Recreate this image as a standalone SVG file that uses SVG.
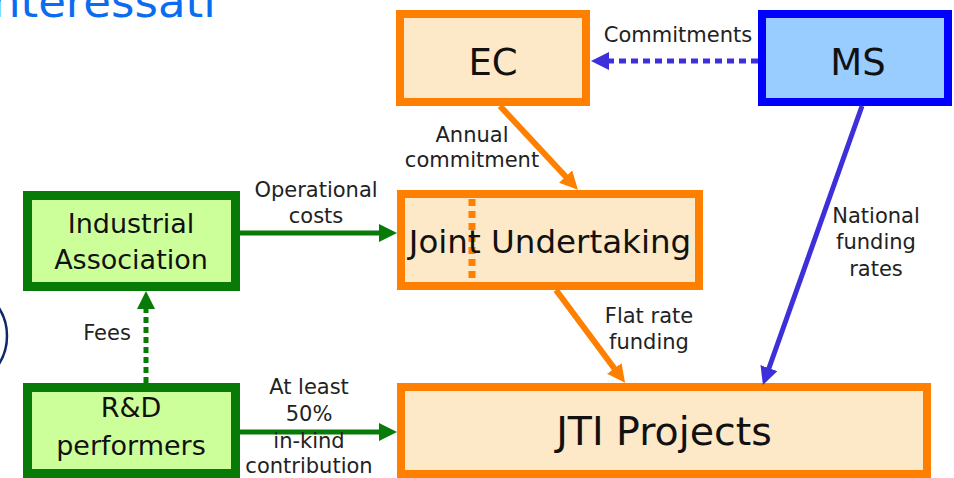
<svg xmlns="http://www.w3.org/2000/svg" width="954" height="478" viewBox="0 0 954 478">
<defs>
<style>
.ob{fill:#fde8c8;stroke:#ff8000;stroke-width:8}
.gb{fill:#ccff99;stroke:#077a07;stroke-width:9}
.bb{fill:#99ccff;stroke:#0000ff;stroke-width:8}
.nt{font-family:"DejaVu Sans",Verdana,sans-serif;fill:#111;text-anchor:middle}
.lb{font-family:"DejaVu Sans",Verdana,sans-serif;font-size:21px;fill:#222;text-anchor:middle}
.og{stroke:#ff8000;stroke-width:6;fill:none}
.gr{stroke:#077a07;stroke-width:5;fill:none}
.bl{stroke:#3d2fd9;stroke-width:5;fill:none}
</style>
<marker id="ha-o" viewBox="0 0 18 18" refX="2" refY="9" markerWidth="18" markerHeight="18" markerUnits="userSpaceOnUse" orient="auto"><path d="M0,0 L18,9 L0,18 z" fill="#ff8000"/></marker>
<marker id="ha-g" viewBox="0 0 18 18" refX="2" refY="9" markerWidth="18" markerHeight="18" markerUnits="userSpaceOnUse" orient="auto"><path d="M0,0 L18,9 L0,18 z" fill="#077a07"/></marker>
<marker id="ha-b" viewBox="0 0 18 18" refX="2" refY="9" markerWidth="18" markerHeight="18" markerUnits="userSpaceOnUse" orient="auto"><path d="M0,0 L18,9 L0,18 z" fill="#3d2fd9"/></marker>
</defs>
<rect width="954" height="478" fill="#ffffff"/>
<text x="-8" y="17" font-family="'DejaVu Sans',Verdana,sans-serif" font-size="45" fill="#0a6cf0">nteressati</text>
<circle cx="-45" cy="336" r="52" fill="none" stroke="#0c2a6a" stroke-width="2.5"/>
<g id="ec"><rect class="ob" x="400" y="14" width="186" height="88"/><text class="nt" x="493" y="75" font-size="37">EC</text></g>
<g id="ms"><rect class="bb" x="762" y="14" width="186" height="88"/><text class="nt" x="858" y="75" font-size="37">MS</text></g>
<g id="ju"><rect class="ob" x="401" y="194" width="298" height="92"/><line x1="472" y1="199" x2="472" y2="281" stroke="#ff8000" stroke-width="7" stroke-dasharray="7 5"/><text class="nt" x="550" y="253" font-size="32.5">Joint Undertaking</text></g>
<g id="jti"><rect class="ob" x="401" y="387" width="526" height="87"/><text class="nt" x="664" y="445" font-size="39.5">JTI Projects</text></g>
<g id="ia"><rect class="gb" x="27.5" y="195.5" width="208" height="91"/><text class="nt" x="131" y="233" font-size="27">Industrial</text><text class="nt" x="131" y="269" font-size="27">Association</text></g>
<g id="rd"><rect class="gb" x="27.5" y="387.5" width="208" height="86"/><text class="nt" x="131" y="417" font-size="27">R&amp;D</text><text class="nt" x="131" y="455" font-size="27">performers</text></g>
<g id="connectors">
<line class="bl" x1="758" y1="61" x2="607" y2="61" stroke-width="6" stroke-dasharray="7 5" marker-end="url(#ha-b)"/>
<line class="og" x1="500" y1="106" x2="567" y2="178" marker-end="url(#ha-o)"/>
<line class="og" x1="556" y1="290" x2="615.5" y2="370" marker-end="url(#ha-o)"/>
<line class="bl" x1="862" y1="106" x2="768.3" y2="370" marker-end="url(#ha-b)"/>
<line class="gr" x1="240" y1="233" x2="381" y2="233" marker-end="url(#ha-g)"/>
<line class="gr" x1="240" y1="432" x2="381" y2="432" marker-end="url(#ha-g)"/>
<line class="gr" x1="146" y1="383" x2="146" y2="307" stroke-width="6" stroke-dasharray="6 4" marker-end="url(#ha-g)"/>
<text class="lb" x="678" y="42">Commitments</text>
<text class="lb" x="472" y="142">Annual</text>
<text class="lb" x="472" y="167">commitment</text>
<text class="lb" x="316" y="197">Operational</text>
<text class="lb" x="316" y="223">costs</text>
<text class="lb" x="876" y="223">National</text>
<text class="lb" x="876" y="249">funding</text>
<text class="lb" x="876" y="276">rates</text>
<text class="lb" x="649" y="323">Flat rate</text>
<text class="lb" x="649" y="349">funding</text>
<text class="lb" x="107" y="340">Fees</text>
<text class="lb" x="309" y="394">At least</text>
<text class="lb" x="309" y="421">50%</text>
<text class="lb" x="309" y="448">in-kind</text>
<text class="lb" x="309" y="473">contribution</text>
</g>
</svg>
